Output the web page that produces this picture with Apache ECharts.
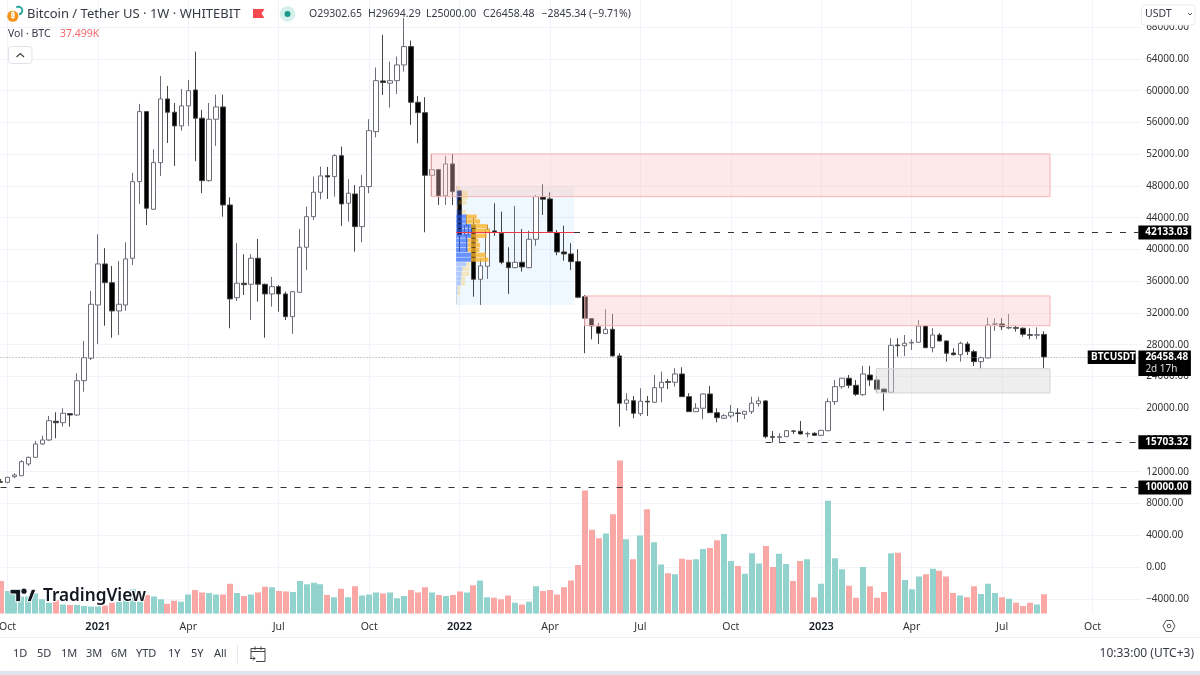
<!DOCTYPE html>
<html lang="en">
<head>
    <meta charset="UTF-8">
    <title>BTCUSDT 1W</title>
    <script src="https://cdn.jsdelivr.net/npm/echarts@6/dist/echarts.min.js"></script>
    <style>
        html, body { margin: 0; padding: 0; background: #fff; }
        #main { width: 1200px; height: 675px; }
    </style>
</head>
<body>
<div id="main"></div>

<script>
    // weekly candles, index 0 = last week of Sep 2020, index 150 = current week
    var opens = [
        10750,10670,11380,11500,12980,13820,15500,16000,18360,18180,
        19320,19150,23470,26300,33010,38180,35820,32260,33010,38900,
        48550,57370,45070,50940,58970,57290,55570,58090,60100,56540,
        48670,56410,57960,45610,33930,35750,35620,38900,35620,34400,
        35320,34400,31540,34610,40280,44140,47210,49300,49180,51820,
        45830,47000,42880,47920,54850,61240,60950,61270,63250,65560,
        58550,57240,49350,50060,46750,50780,47380,41830,43090,36250,
        37890,42340,42050,38390,37710,38390,37710,41290,46620,46370,
        42120,39690,39440,38470,34060,31290,30280,29400,29950,26590,
        20630,20950,19320,20880,20750,22590,23350,23270,24320,21460,
        19570,20000,21800,19440,18740,19030,19400,19240,19570,20580,
        20920,16420,16340,16420,17140,17100,16760,16850,16590,17170,
        20830,22720,23780,22890,21710,24190,23560,22430,22010,27970,
        27880,28220,28310,30370,27630,29230,28480,26960,26750,28100,
        27130,25870,26330,30580,30620,30110,30150,30080,29270,29200,29302.65
    ];
    var closes = [
        10670,11300,11590,13270,13820,15500,16000,18430,18180,19370,
        19150,23470,26370,33100,38180,35820,32260,33100,38810,48550,
        57370,45200,50940,58970,57290,55570,58090,60010,56540,48670,
        56410,57960,45610,33770,35750,35570,38900,35620,34400,35320,
        34400,31540,34690,40280,44140,47210,49270,49140,51820,45740,
        47090,42880,47920,54970,61270,61050,61270,63250,65560,58550,
        57240,49350,50060,46750,50780,47290,41830,43000,36250,37930,
        42550,42150,38390,37710,38390,37800,41290,46660,46330,42250,
        39690,39440,38470,33980,31340,30370,29450,29950,26590,20630,
        21040,19370,20880,20790,22590,23270,23270,24320,21460,19570,
        20000,21800,19440,18810,19060,19490,19340,19620,20630,20920,
        16420,16340,16420,17170,17100,16760,16820,16590,17220,20830,
        22720,23780,22890,21760,24320,23560,22390,22010,27930,27880,
        28190,28310,30370,27630,29230,28480,26930,26750,28190,27130,
        25870,26370,30490,30640,30280,30180,30080,29320,29190,29270,26458.48
    ];
    var lows = [
        10580,10550,11180,11500,12730,13730,15370,15880,16220,17680,
        17680,19030,22090,26080,28100,30400,28890,29230,32290,38050,
        45740,43090,44980,49270,53420,50530,54970,55570,51120,47090,
        48550,53050,44140,30080,33520,34270,31120,33430,28890,32800,
        32170,31120,29360,34610,37420,43720,46330,46370,46660,42970,
        43510,39730,40910,47090,54140,59470,57870,59600,62410,55690,
        53390,42170,46750,45610,45610,45610,39690,39690,34060,33010,
        36290,41710,38140,34400,37640,37210,37640,40480,44350,42170,
        39270,38590,37420,33860,26930,28690,28100,29360,26500,17680,
        19690,18740,19030,19030,20660,20750,22430,22720,21420,19530,
        19530,18610,19400,18230,18610,18740,18230,18650,19280,20200,
        16220,15710,15590,16380,16760,16700,16340,16510,16510,17100,
        20410,22470,22520,21550,21550,22810,21960,19690,21990,26500,
        26590,27340,28290,27560,27050,28390,25870,26620,25870,26710,
        25330,24910,26300,29740,29860,29950,29650,29020,28690,28690,25000
    ];
    var highs = [
        11090,11340,11810,13480,13900,15880,16540,19030,19490,20000,
        19400,24410,28480,34780,41920,40160,37930,38560,40910,49680,
        58340,57460,52630,61870,60610,58460,60230,61360,64930,57580,
        58460,59510,59510,46580,40790,39400,39400,41330,35700,36540,
        35530,34690,34780,42590,45400,49180,50440,50400,52000,52960,
        48850,48130,49390,56410,62910,67030,63670,64300,69170,66310,
        59350,59180,52040,50150,51790,52040,47500,44400,43970,38900,
        43090,45820,44770,40280,45490,42590,42370,46870,48220,47210,
        42460,43000,40790,40030,34270,31370,30710,32470,31880,26930,
        21890,21550,22520,21550,24190,24610,23690,25040,25160,21890,
        20630,21860,22810,20000,19280,20410,20000,19660,21460,21460,
        21040,17140,16850,17260,17260,18400,17050,16970,17260,21260,
        23560,23810,24190,23560,25330,25330,24070,22430,28820,28820,
        29230,28690,31120,30490,30080,29480,28510,27560,28390,28390,
        27340,26500,31410,31340,31340,31880,30370,30180,30080,30200,29694.29
    ];
    // volume, thousands of BTC
    var volumes = [
        63,44,38,33,33,39,28,21,26,18,
        17,17,15,14,14,16,21,23,26,47,
        23,36,33,28,19,25,23,37,46,41,
        40,37,37,58,40,34,37,41,52,51,
        44,43,42,63,57,60,57,36,32,48,
        32,53,35,37,41,39,41,30,34,46,
        41,51,41,36,34,36,43,41,55,64,
        32,31,28,35,21,18,23,53,44,46,
        37,51,64,94,238,162,146,155,192,296,
        144,105,151,202,138,95,78,76,106,104,
        105,125,127,142,154,102,92,77,117,97,
        131,90,116,96,63,102,105,32,58,218,
        107,86,54,31,90,53,31,42,117,118,
        65,47,72,76,87,83,72,40,35,32,
        53,38,58,40,32,29,21,15,21,18,37.5
    ];

    var xTickIdx = [1, 14, 27, 40, 53, 66, 79, 92, 105, 118, 131, 144, 157];
    var xTickLabels = ['Oct', '2021', 'Apr', 'Jul', 'Oct', '2022', 'Apr', 'Jul', 'Oct', '2023', 'Apr', 'Jul', 'Oct'];
    var yTicks = [68000, 64000, 60000, 56000, 52000, 48000, 44000, 40000, 36000, 32000, 28000, 24000, 20000, 16000, 12000, 8000, 4000, 0, -4000];

    // zones: [from week, to week, top price, bottom price]
    var redZones = [[61.9, 150.9, 52040, 46660], [84, 150.9, 34150, 30400]];
    var greyZones = [[125.9, 150.9, 24990, 21920]];
    var profileBox = [65.5, 82.45, 48000, 33000];

    // horizontal levels: [price, from week]
    var levels = [[42133.03, 82.45], [15703.32, 110], [10000, 0]];
    var pocPrice = 42133.03;

    // fixed range volume profile, rows of 600 from the top of the box, widths in weeks
    var profileRow = 600;
    var profileUp = [0.1,0.8,0.67,0.33,0.1,0.8,1.44,1.44,2.16,2.3,2.16,1.68,1.68,1.68,2.16,2.16,1.44,0.91,0.8,0.72,0.67,0.19,0.19,0.1,0.1];
    var profileAll = [0.48,1.68,1.68,1.53,0.33,1.39,2.97,3.45,4.55,4.89,4.41,3.21,3.45,3.35,4.26,4.65,2.01,1.92,1.92,1.29,1.29,0.58,0.58,0.19,0.19];

    var rangeButtons = ['1D', '5D', '1M', '3M', '6M', 'YTD', '1Y', '5Y', 'All'];
    var rangeX = [13, 37, 61, 86, 111, 136, 168, 191, 214];
    var ohlcText = ['O29302.65', 'H29694.29', 'L25000.00', 'C26458.48', '\u22122845.34 (\u22129.71%)'];
    var ohlcX = [309, 368, 426, 483, 541.5];

    var FONT = '"Noto Sans", sans-serif';
    var lastClose = closes[closes.length - 1];
    var myChart = echarts.init(document.getElementById('main'));

    function zoneData(list) {
        return list.map(function (z) {
            return [{coord: [z[0], z[2]]}, {coord: [z[1], z[3]]}];
        });
    }

    function levelLine(item) {
        return [{
            coord: [item[1], item[0]],
            label: {
                show: true,
                position: 'end',
                distance: 0,
                formatter: item[0].toFixed(2),
                color: '#fff',
                backgroundColor: '#000',
                padding: [2, 3, 2, 7],
                fontFamily: FONT,
                fontSize: 10,
                fontWeight: 'bold'
            }
        }, {coord: [163.6, item[0]]}];
    }

    var option = {
        animation: false,
        backgroundColor: '#fff',
        grid: {left: 0.55, right: 58.85, top: 0, bottom: 61.3, containLabel: false, outerBoundsMode: 'none'},
        xAxis: {
            type: 'value',
            min: 0,
            max: 164,
            axisLine: {show: false},
            axisTick: {show: false, customValues: xTickIdx},
            splitLine: {show: true, lineStyle: {color: '#f0f3fa', width: 1}},
            axisLabel: {
                customValues: xTickIdx,
                margin: 8,
                showMinLabel: true,
                showMaxLabel: true,
                hideOverlap: false,
                formatter: function (v) {
                    var s = xTickLabels[xTickIdx.indexOf(v)];
                    return s.length === 4 ? '{y|' + s + '}' : s;
                },
                color: '#333',
                fontFamily: FONT,
                fontSize: 10.5,
                rich: {y: {color: '#131722', fontFamily: FONT, fontSize: 11, fontWeight: 600}}
            }
        },
        yAxis: [{
            type: 'value',
            position: 'right',
            min: -5883,
            max: 71431,
            scale: true,
            axisLine: {show: false},
            axisTick: {show: false, customValues: yTicks},
            splitLine: {show: true, lineStyle: {color: '#f0f3fa', width: 1}},
            axisLabel: {
                customValues: yTicks,
                inside: false,
                margin: 5,
                formatter: function (v) {
                    return v < 0 ? '\u2212' + Math.abs(v).toFixed(2) : v.toFixed(2);
                },
                color: '#333',
                fontFamily: FONT,
                fontSize: 10
            }
        }, {
            type: 'value',
            show: false,
            min: 0,
            max: 1185.7,
            splitLine: {show: false}
        }],
        series: [{
            name: 'box',
            type: 'line',
            data: [],
            z: 1,
            markArea: {
                silent: true,
                z: 1,
                itemStyle: {color: 'rgba(33,150,243,0.07)'},
                data: [[{coord: [profileBox[0], profileBox[2]]}, {coord: [profileBox[1], profileBox[3]]}]]
            }
        }, {
            // custom instead of bar: a bar series widens the x extent and shifts every week
            name: 'Vol',
            type: 'custom',
            yAxisIndex: 1,
            z: 2,
            clip: true,
            data: volumes.map(function (v, i) { return [i, v]; }),
            encode: {x: 0, y: 1},
            renderItem: function (params, api) {
                var i = api.value(0);
                var top = api.coord([i, api.value(1)]);
                var base = api.coord([i, 0]);
                return {
                    type: 'rect',
                    shape: {x: Math.round(top[0] - 3), y: top[1], width: 6, height: base[1] - top[1]},
                    style: {fill: closes[i] >= opens[i] ? '#93d3cd' : '#f9a8a6'}
                };
            }
        }, {
            name: 'BTCUSDT',
            type: 'candlestick',
            barWidth: 5,
            z: 2,
            data: opens.map(function (o, i) { return [i, o, closes[i], lows[i], highs[i]]; }),
            itemStyle: {
                color: '#fff',
                color0: '#000',
                borderColor: '#6a6d78',
                borderColor0: '#444',
                borderWidth: 1
            }
        }, {
            name: 'zones',
            type: 'line',
            data: [],
            z: 3,
            markArea: {
                silent: true,
                z: 3,
                itemStyle: {color: 'rgba(249,194,194,0.36)', borderColor: '#f8b4b4', borderWidth: 1},
                data: zoneData(redZones)
            }
        }, {
            name: 'grey zones',
            type: 'line',
            data: [],
            z: 3,
            markArea: {
                silent: true,
                z: 3,
                itemStyle: {color: 'rgba(212,212,215,0.4)', borderColor: '#d4d5d8', borderWidth: 1},
                data: zoneData(greyZones)
            }
        }, {
            name: 'profile',
            type: 'custom',
            z: 4,
            data: profileAll.map(function (w, r) { return [r, profileUp[r], w]; }),
            encode: {x: 2, y: 0},
            renderItem: function (params, api) {
                var r = api.value(0);
                var faded = r < 6 || r > 15;
                var top = profileBox[2] - r * profileRow;
                var a = api.coord([profileBox[0], top]);
                var b = api.coord([profileBox[0] + api.value(1), top - profileRow]);
                var c = api.coord([profileBox[0] + api.value(2), top - profileRow]);
                var h = b[1] - a[1] - 0.5;
                return {
                    type: 'group',
                    children: [{
                        type: 'rect',
                        shape: {x: a[0], y: a[1], width: b[0] - a[0], height: h},
                        style: {fill: faded ? 'rgba(41,98,255,0.3)' : 'rgba(41,98,255,0.68)'}
                    }, {
                        type: 'rect',
                        shape: {x: b[0], y: a[1], width: c[0] - b[0], height: h},
                        style: {fill: faded ? 'rgba(251,192,45,0.3)' : 'rgba(251,180,45,0.8)'}
                    }]
                };
            }
        }, {
            name: 'levels',
            type: 'line',
            data: [],
            z: 5,
            markLine: {
                silent: true,
                symbol: 'none',
                z: 5,
                label: {show: false},
                lineStyle: {color: '#333', width: 1, type: [6, 8]},
                data: levels.map(levelLine).concat([
                    [{
                        coord: [profileBox[0], pocPrice],
                        lineStyle: {color: '#f23645', width: 1, type: 'solid'}
                    }, {coord: [profileBox[1], pocPrice]}],
                    [{
                        coord: [0, lastClose],
                        lineStyle: {color: '#9598a1', width: 1, type: [1, 2]}
                    }, {coord: [163.6, lastClose]}]
                ])
            }
        }]
    };

    myChart.setOption(option);

    function txt(x, y, s, font, fill, align) {
        return {
            type: 'text', x: x, y: y, z: 50, silent: true,
            style: {text: s, font: font, fill: fill || '#333', align: align || 'left', verticalAlign: 'middle'}
        };
    }

    function line(pts, color, w) {
        return {
            type: 'polyline', z: 50, silent: true,
            shape: {points: pts},
            style: {stroke: color || '#444', lineWidth: w || 1, fill: null}
        };
    }

    var lastY = myChart.convertToPixel({yAxisIndex: 0}, lastClose);
    var gfx = [];

    // header
    gfx.push({type: 'arc', z: 50, silent: true, shape: {cx: 18.5, cy: 10.5, r: 3.8, startAngle: -2.2, endAngle: 1.4}, style: {stroke: '#26a69a', lineWidth: 2, fill: null}});
    gfx.push({type: 'circle', z: 50, silent: true, shape: {cx: 12.8, cy: 16.2, r: 5.6}, style: {fill: '#f7931a'}});
    gfx.push(txt(12.8, 16.2, '\u20bf', 'bold 8px ' + FONT, '#fff', 'center'));
    gfx.push(txt(27, 14, 'Bitcoin / Tether US \u00b7 1W \u00b7 WHITEBIT', '13px ' + FONT, '#363a45'));
    gfx.push({type: 'polygon', z: 50, silent: true, shape: {points: [[253, 9], [264.5, 9], [261.5, 13.5], [264.5, 18], [253, 18]]}, style: {fill: '#f5494f'}});
    gfx.push({type: 'circle', z: 50, silent: true, shape: {cx: 287.5, cy: 14, r: 7.8}, style: {fill: '#d6f0ec'}});
    gfx.push({type: 'circle', z: 50, silent: true, shape: {cx: 287.5, cy: 14, r: 3}, style: {fill: '#1a9a8c'}});
    ohlcText.forEach(function (s, i) {
        gfx.push(txt(ohlcX[i], 14, s, '10.5px ' + FONT, '#363a45'));
    });
    gfx.push(txt(8, 34, 'Vol \u00b7 BTC', '10.5px ' + FONT, '#363a45'));
    gfx.push(txt(60, 34, '37.499K', '10.5px ' + FONT, '#f5686c'));
    gfx.push({type: 'rect', z: 50, silent: true, shape: {x: 8.5, y: 46.5, width: 23.5, height: 17, r: 3}, style: {fill: '#fff', stroke: '#e0e3eb', lineWidth: 1}});
    gfx.push(line([[16.5, 57], [20.3, 53.5], [24, 57]], '#444', 1.2));

    // currency box
    gfx.push({type: 'rect', z: 50, silent: true, shape: {x: 1141.5, y: 5, width: 53.5, height: 20, r: 3}, style: {fill: '#fff', stroke: '#e9ebf1', lineWidth: 1}});
    gfx.push(txt(1145, 14, 'USDT', '10.5px ' + FONT, '#363a45'));
    gfx.push(line([[1188, 13], [1190, 15], [1192, 13]], '#555', 1));

    // last price tags
    gfx.push({type: 'rect', z: 50, silent: true, shape: {x: 1087.7, y: lastY - 6.5, width: 48, height: 13.5}, style: {fill: '#000'}});
    gfx.push(txt(1091, lastY, 'BTCUSDT', 'bold 10px ' + FONT, '#fff'));
    gfx.push({type: 'rect', z: 50, silent: true, shape: {x: 1138.4, y: lastY - 6.5, width: 52.5, height: 25.5}, style: {fill: '#000'}});
    gfx.push(txt(1145.4, lastY, '26458.48', 'bold 10px ' + FONT, '#fff'));
    gfx.push(txt(1145.4, lastY + 12, '2d 17h', '10px ' + FONT, '#ddd'));

    // watermark
    gfx.push({type: 'polygon', z: 50, silent: true, shape: {points: [[10, 589.3], [20.7, 589.3], [20.7, 601.7], [15.7, 601.7], [15.7, 594], [10, 594]]}, style: {fill: '#131722', stroke: '#fff', lineWidth: 1}});
    gfx.push({type: 'circle', z: 50, silent: true, shape: {cx: 24, cy: 591.2, r: 2.6}, style: {fill: '#131722'}});
    gfx.push({type: 'polygon', z: 50, silent: true, shape: {points: [[27, 601.7], [31.5, 589.3], [36, 589.3], [31, 601.7]]}, style: {fill: '#131722', stroke: '#fff', lineWidth: 1}});
    gfx.push({
        type: 'text', x: 43, y: 596, z: 50, silent: true,
        style: {text: 'TradingView', font: '600 17.2px ' + FONT, fill: '#131722', stroke: '#fff', lineWidth: 2, verticalAlign: 'middle'}
    });

    // time scale separator, settings icon
    gfx.push({type: 'rect', z: 49, silent: true, shape: {x: 0, y: 637, width: 1200, height: 1}, style: {fill: '#eceef3'}});
    gfx.push({type: 'polygon', z: 50, silent: true, shape: {points: [[1163, 626], [1166, 620.5], [1172, 620.5], [1175, 626], [1172, 631.5], [1166, 631.5]]}, style: {fill: null, stroke: '#555', lineWidth: 1}});
    gfx.push({type: 'circle', z: 50, silent: true, shape: {cx: 1169, cy: 626, r: 1.8}, style: {fill: null, stroke: '#555', lineWidth: 1}});

    // bottom toolbar
    rangeButtons.forEach(function (s, i) {
        gfx.push(txt(rangeX[i], 654, s, '11px ' + FONT, '#363a45'));
    });
    gfx.push({type: 'rect', z: 50, silent: true, shape: {x: 237, y: 645, width: 1, height: 18}, style: {fill: '#e6e8ee'}});
    gfx.push(line([[251, 658], [251, 648.5], [265, 648.5], [265, 661.5], [256, 661.5]], '#444', 1));
    gfx.push(line([[251, 651.5], [265, 651.5]], '#444', 1));
    gfx.push(line([[255, 646.5], [255, 650]], '#444', 1));
    gfx.push(line([[261, 646.5], [261, 650]], '#444', 1));
    gfx.push(line([[250, 658.5], [255, 658.5]], '#444', 1));
    gfx.push(line([[253, 656.5], [255, 658.5], [253, 660.5]], '#444', 1));
    gfx.push(txt(1194, 654, '10:33:00 (UTC+3)', '12px ' + FONT, '#363a45', 'right'));
    gfx.push({type: 'rect', z: 50, silent: true, shape: {x: 0, y: 671, width: 1200, height: 4}, style: {fill: '#e0e3eb'}});

    myChart.setOption({graphic: gfx});
</script>
</body>
</html>
